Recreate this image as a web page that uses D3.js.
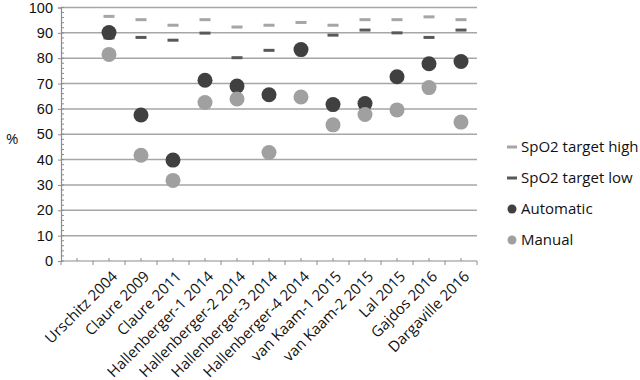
<!DOCTYPE html>
<html>
<head>
<meta charset="UTF-8">
<style>
  body { margin: 0; background: #fff; }
  svg { display: block; font-family: "Open Sans", sans-serif; }
</style>
</head>
<body>
<svg></svg>
<script src="https://d3js.org/d3.v7.min.js"></script>
<script>
let width = 640, height = 380;

// first slot is left empty in the original chart
let studies = ["", "Urschitz 2004", "Claure 2009", "Claure 2011", "Hallenberger-1 2014",
  "Hallenberger-2 2014", "Hallenberger-3 2014", "Hallenberger-4 2014", "van Kaam-1 2015",
  "van Kaam-2 2015", "Lal 2015", "Gajdos 2016", "Dargaville 2016"];
let targetHigh = [null, 96.5, 95.2, 93, 95.2, 92.3, 93, 94.1, 93, 95.2, 95.2, 96.3, 95.2];
let targetLow  = [null, 88, 88.2, 87.1, 89.9, 80.2, 83.1, null, 89.1, 91.1, 90, 88.2, 91.1];
let automatic  = [null, 90.1, 57.6, 39.8, 71.3, 69, 65.6, 83.4, 61.7, 62.1, 72.7, 77.8, 78.7];
let manual     = [null, 81.5, 41.7, 31.8, 62.5, 63.9, 42.8, 64.7, 53.7, 57.8, 59.6, 68.4, 54.8];
let yTicks = [0, 10, 20, 30, 40, 50, 60, 70, 80, 90, 100];

let svg = d3.select("svg").attr("width", width).attr("height", height);

let x = d3.scaleBand().domain(studies.map((d, i) => i)).range([61, 477]);
let y = d3.scaleLinear().domain([0, 100]).range([261, 7.5]);

// gridlines
svg.append("g").selectAll("line").data(yTicks.slice(1)).enter().append("line")
  .attr("x1", 61).attr("x2", 477)
  .attr("y1", d => y(d)).attr("y2", d => y(d))
  .attr("stroke", "#a6a6a6").attr("stroke-width", 1.5);

// y axis: major ticks outside, minor inside
let yAxis = svg.append("g").attr("transform", "translate(61,0)")
  .call(d3.axisLeft(y).tickValues(yTicks).tickSize(3).tickPadding(5));
yAxis.select(".domain").attr("stroke", "#8c8c8c").attr("stroke-width", 1.2);
yAxis.selectAll(".tick line").attr("stroke", "#8c8c8c");
yAxis.selectAll("text").attr("font-size", 14.5).attr("fill", "#111");
svg.append("g").selectAll("line").data(d3.range(0, 101, 2)).enter().append("line")
  .attr("x1", 61).attr("x2", 64)
  .attr("y1", d => y(d)).attr("y2", d => y(d))
  .attr("stroke", "#8c8c8c");

// x axis
let xAxisY = y(0);
svg.append("line").attr("x1", 61).attr("x2", 477).attr("y1", xAxisY).attr("y2", xAxisY)
  .attr("stroke", "#8c8c8c").attr("stroke-width", 1.2);
let bounds = d3.range(studies.length + 1).map(i => 61 + i * x.step());
svg.append("g").selectAll("line").data(bounds).enter().append("line")
  .attr("x1", d => d).attr("x2", d => d)
  .attr("y1", xAxisY).attr("y2", xAxisY + 4)
  .attr("stroke", "#8c8c8c");
svg.append("g").selectAll("line").data(studies).enter().append("line")
  .attr("x1", (d, i) => x(i) + x.bandwidth() / 2).attr("x2", (d, i) => x(i) + x.bandwidth() / 2)
  .attr("y1", xAxisY - 3).attr("y2", xAxisY)
  .attr("stroke", "#8c8c8c");
svg.append("g").selectAll("text").data(studies).enter().append("text")
  .attr("transform", (d, i) => "translate(" + (x(i) + x.bandwidth() / 2 + 2) + "," + (xAxisY + 9) + ") rotate(-45)")
  .attr("text-anchor", "end")
  .attr("dy", "0.7em")
  .attr("font-size", 15)
  .attr("fill", "#111")
  .text(d => d);

svg.append("text").attr("x", 6).attr("y", 144).attr("font-size", 15).attr("fill", "#111").text("%");

let cx = i => x(i) + x.bandwidth() / 2;

function dashes(vals, color) {
  svg.append("g").selectAll("rect").data(vals.map((v, i) => [v, i]).filter(d => d[0] != null))
    .enter().append("rect")
    .attr("x", d => cx(d[1]) - 5.5).attr("y", d => y(d[0]) - 1.5)
    .attr("width", 11).attr("height", 3)
    .attr("fill", color);
}
function dots(vals, color) {
  svg.append("g").selectAll("circle").data(vals.map((v, i) => [v, i]).filter(d => d[0] != null))
    .enter().append("circle")
    .attr("cx", d => cx(d[1])).attr("cy", d => y(d[0]))
    .attr("r", 7.5)
    .attr("fill", color);
}

let cHigh = "#a6a6a6", cLow = "#595959", cAuto = "#404040", cMan = "#a0a0a0";
dashes(targetHigh, cHigh);
dashes(targetLow, cLow);
dots(automatic, cAuto);
dots(manual, cMan);

// legend
let legend = [
  {name: "SpO2 target high", color: cHigh, type: "dash"},
  {name: "SpO2 target low", color: cLow, type: "dash"},
  {name: "Automatic", color: cAuto, type: "dot"},
  {name: "Manual", color: cMan, type: "dot"}
];
let lg = svg.append("g").selectAll("g").data(legend).enter().append("g")
  .attr("transform", (d, i) => "translate(512," + (147 + i * 31) + ")");
lg.filter(d => d.type == "dash").append("rect")
  .attr("x", -5).attr("y", -1.5).attr("width", 10).attr("height", 3)
  .attr("fill", d => d.color);
lg.filter(d => d.type == "dot").append("circle")
  .attr("r", 4.5).attr("fill", d => d.color);
lg.append("text").attr("x", 9).attr("dy", "0.35em")
  .attr("font-size", 15).attr("fill", "#111")
  .text(d => d.name);
</script>
</body>
</html>
